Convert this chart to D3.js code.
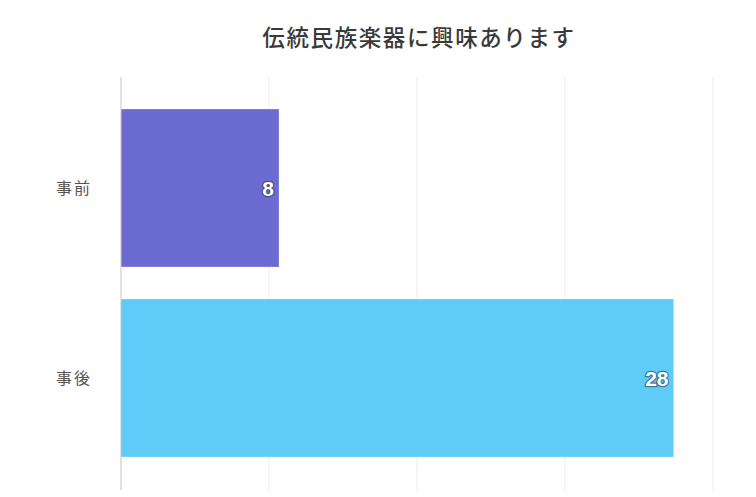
<!DOCTYPE html>
<html>
<head>
<meta charset="utf-8">
<script src="https://cdn.jsdelivr.net/npm/d3@7"></script>
<style>
  html, body { margin: 0; padding: 0; background: #fff; }
  svg { display: block; font-family: "Noto Sans CJK JP", "Noto Sans", sans-serif; }
</style>
</head>
<body>
<svg id="chart" width="756" height="497"></svg>
<script>
// Survey answers: interest in traditional folk instruments, before and after
const chartTitle = "伝統民族楽器に興味あります";
const categories = ["事前", "事後"];
const counts = [8, 28];
const barColors = ["#6b6bd2", "#5ecbf8"];
const xTicks = [0, 7.5, 15, 22.5, 30];

const svg = d3.select("#chart");

const plot = { left: 121, right: 713, top: 93, bottom: 473, gridTop: 77, gridBottom: 490 };

const x = d3.scaleLinear().domain([0, 30]).range([plot.left, plot.right]);
const y = d3.scaleBand().domain(categories).range([plot.top, plot.bottom]).paddingInner(0.17).paddingOuter(0.085);

// vertical gridlines
svg.append("g")
  .selectAll("line")
  .data(xTicks.slice(1))
  .join("line")
  .attr("x1", d => x(d)).attr("x2", d => x(d))
  .attr("y1", plot.gridTop).attr("y2", plot.gridBottom)
  .attr("stroke", "#ececec")
  .attr("stroke-width", 1);

// bars
svg.append("g")
  .selectAll("rect")
  .data(categories)
  .join("rect")
  .attr("x", x(0))
  .attr("y", d => y(d))
  .attr("width", (d, i) => x(counts[i]) - x(0))
  .attr("height", y.bandwidth())
  .attr("fill", (d, i) => barColors[i]);

// category axis line
svg.append("line")
  .attr("x1", x(0)).attr("x2", x(0))
  .attr("y1", plot.gridTop).attr("y2", plot.gridBottom)
  .attr("stroke", "#c4c4c4")
  .attr("stroke-width", 1);

// category labels
svg.append("g")
  .selectAll("text")
  .data(categories)
  .join("text")
  .attr("x", 74)
  .attr("y", d => y(d) + y.bandwidth() / 2)
  .attr("dy", "0.35em")
  .attr("text-anchor", "middle")
  .attr("font-size", 16)
  .attr("letter-spacing", 2)
  .attr("fill", "#555")
  .text(d => d);

// value labels inside bar ends
svg.append("g")
  .selectAll("text")
  .data(categories)
  .join("text")
  .attr("x", (d, i) => x(counts[i]) - 5)
  .attr("y", d => y(d) + y.bandwidth() / 2)
  .attr("dy", "0.36em")
  .attr("text-anchor", "end")
  .attr("font-size", 21)
  .attr("font-weight", "bold")
  .attr("font-family", "Liberation Sans, Arial, sans-serif")
  .attr("fill", "#fff")
  .attr("stroke", "#2e3e52")
  .attr("stroke-width", 2.5)
  .attr("stroke-opacity", 0.6)
  .attr("paint-order", "stroke")
  .text((d, i) => counts[i]);

// title
svg.append("text")
  .attr("x", 419)
  .attr("y", 46)
  .attr("text-anchor", "middle")
  .attr("font-size", 22.5)
  .attr("font-weight", 500)
  .attr("letter-spacing", 1.6)
  .attr("fill", "#3a3a3a")
  .text(chartTitle);
</script>
</body>
</html>
